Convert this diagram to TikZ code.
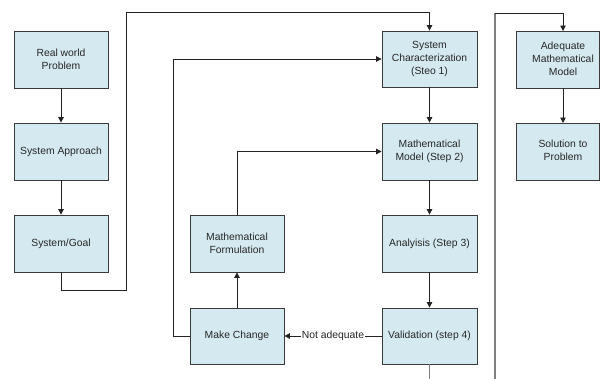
\documentclass[tikz,border=0pt]{standalone}
\usepackage{fontspec}
\setmainfont{Liberation Sans}
\usetikzlibrary{arrows.meta}
\definecolor{boxfill}{HTML}{D5EAF0}
\definecolor{boxline}{HTML}{3A3A3A}
\definecolor{wire}{HTML}{222222}
\definecolor{greywire}{HTML}{808080}
\begin{document}
\begin{tikzpicture}[x=1bp,y=-1bp,
  box/.style={draw=boxline,line width=0.8bp,fill=boxfill,minimum width=94bp,minimum height=57bp,
    inner sep=1bp,align=center,font=\fontsize{10.4}{13}\selectfont,text=black!85},
  wirestyle/.style={draw=wire,line width=0.8bp},
  arr/.style={wirestyle,-{Triangle[length=5.5bp,width=5.5bp]}},
  lbl/.style={fill=white,inner sep=0.5bp,font=\fontsize{10.4}{13}\selectfont,text=black!85}]
\useasboundingbox (0,0) rectangle (600,378);
\fill[white] (0,0) rectangle (600,378);
% left column
\node[box] (rw) at (61,59.5) {Real world\\Problem};
\node[box] (sa) at (61,151.5) {System Approach};
\node[box] (sg) at (61,243.5) {System/Goal};
% middle column
\node[box,minimum width=95bp,minimum height=56bp] (sc) at (429.5,59) {System\\Characterization\\(Steo 1)};
\node[box,minimum width=95bp] (mm) at (429.5,151.5) {Mathematical\\Model (Step 2)};
\node[box,minimum width=95bp] (an) at (429.5,243.5) {Analyisis (Step 3)};
\node[box,minimum width=95bp,minimum height=56bp] (va) at (429.5,336) {Validation (step 4)};
\node[box] (mf) at (237,243.5) {Mathematical\\Formulation};
\node[box,minimum height=56bp] (mc) at (237,336) {Make Change};
% right column
\node[box,minimum width=83bp] (adq) at (557.5,59.5) {\begin{tabular}{@{\hspace{11bp}}c@{}}Adequate\\Mathematical\\Model\end{tabular}};
\node[box,minimum width=83bp] (sol) at (557.5,151.5) {\begin{tabular}{@{\hspace{11bp}}c@{}}Solution to\\Problem\end{tabular}};
% coordinates
\coordinate (g1) at (61,290);
\coordinate (g2) at (126,290);
\coordinate (g3) at (126,12);
\coordinate (g4) at (429.5,12);
\coordinate (l1) at (173,336);
\coordinate (vb) at (429.5,380);
\coordinate (r0) at (495,380);
\coordinate (r1) at (495,13);
\coordinate (adqin) at (563,31);
\coordinate (adqout) at (563,88);
\coordinate (solin) at (563,123);
% connectors
\draw[arr] (rw) -- (sa);
\draw[arr] (sa) -- (sg);
\draw[arr] (sg.south) -- (g1) -- (g2) -- (g3) -- (g4) -- (sc.north);
\draw[arr] (sc) -- (mm);
\draw[arr] (mm) -- (an);
\draw[arr] (an) -- (va);
\draw[arr] (va.west) -- node[lbl] (na) {Not adequate} (mc.east);
\draw[arr] (mc) -- (mf);
\draw[arr] (mf.north) |- (mm.west);
\draw[arr] (mc.west) -- (l1) |- (sc.west);
\draw[wirestyle,draw=greywire] (va.south) -- (vb);
\draw[draw=greywire,line width=1.3bp] (r0) -- (r1);
\draw[arr] (r1) -| (adqin);
\draw[arr] (adqout) -- (solin);
\end{tikzpicture}
\end{document}
